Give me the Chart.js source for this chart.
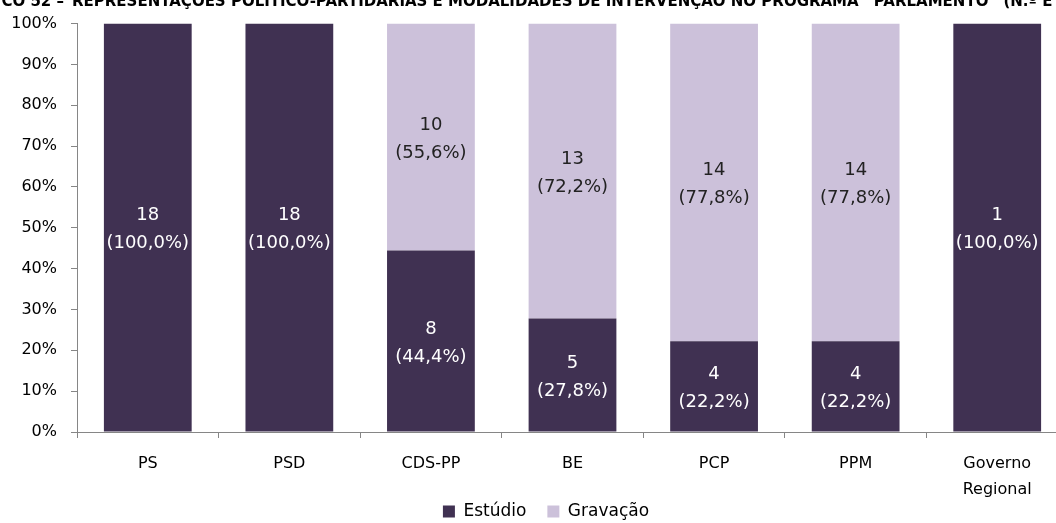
<!DOCTYPE html>
<html>
<head>
<meta charset="utf-8">
<script src="https://cdn.jsdelivr.net/npm/chart.js@4.4.1/dist/chart.umd.min.js"></script>
<style>
html,body{margin:0;padding:0;background:#fff;overflow:hidden;}
#wrap{width:1090px;height:523px;position:relative;}
</style>
</head>
<body>
<div id="wrap"><canvas id="c" width="1090" height="523"></canvas></div>
<script>
const categories = ["PS", "PSD", "CDS-PP", "BE", "PCP", "PPM", ["Governo", "Regional"]];
const estudio = [18, 18, 8, 5, 4, 4, 1];
const gravacao = [0, 0, 10, 13, 14, 14, 0];
const yTicks = [0, 10, 20, 30, 40, 50, 60, 70, 80, 90, 100];
const seriesNames = ["Estúdio", "Gravação"];
const titleLead = "GRÁFICO 52 –";
const titleText = "REPRESENTAÇÕES POLÍTICO-PARTIDÁRIAS E MODALIDADES DE INTERVENÇÃO NO PROGRAMA \u201CPARLAMENTO\u201D (N.º E %)";

const totals = estudio.map((v, i) => v + gravacao[i]);
const pct = arr => arr.map((v, i) => v / totals[i] * 100);
const fmtPct = v => "(" + v.toFixed(1).replace(".", ",") + "%)";

const DARK = "#403152";
const LIGHT = "#CCC1DA";
const AXIS = "#868686";
const FONT = "'DejaVu Sans', sans-serif";

const labelPlugin = {
  id: "segLabels",
  afterLayout(chart) {
    // let the two-line category label extend below the x scale box (no clipping)
    const x = chart.scales.x;
    x.bottom += 30;
    x.height += 30;
    // centre the legend on the full (uncropped) figure width
    const lg = chart.legend;
    lg.right += 24;
    lg.width += 24;
  },
  afterDatasetsDraw(chart) {
    const ctx = chart.ctx;
    ctx.save();
    ctx.font = "18px " + FONT;
    ctx.textAlign = "center";
    ctx.textBaseline = "middle";
    chart.data.datasets.forEach((ds, di) => {
      const meta = chart.getDatasetMeta(di);
      meta.data.forEach((el, i) => {
        const n = ds.counts[i];
        if (!n) return;
        const cy = (el.y + el.base) / 2 + 2;
        ctx.fillStyle = di === 0 ? "#ffffff" : "#222222";
        ctx.fillText(String(n), el.x, cy - 14);
        ctx.fillText(fmtPct(ds.data[i]), el.x, cy + 14);
      });
    });
    ctx.restore();
  }
};

const titlePlugin = {
  id: "clippedTitle",
  afterDraw(chart) {
    const ctx = chart.ctx;
    ctx.save();
    ctx.font = "bold 15px " + FONT;
    ctx.fillStyle = "#000";
    ctx.textBaseline = "alphabetic";
    ctx.textAlign = "right";
    ctx.fillText(titleLead, 64, 6);
    ctx.textAlign = "left";
    ctx.fillText(titleText, 72, 6);
    ctx.restore();
  }
};

new Chart(document.getElementById("c"), {
  type: "bar",
  data: {
    labels: categories,
    datasets: [
      { label: seriesNames[0], data: pct(estudio), counts: estudio, backgroundColor: DARK, borderColor: DARK, borderWidth: 0 },
      { label: seriesNames[1], data: pct(gravacao), counts: gravacao, backgroundColor: LIGHT, borderColor: LIGHT, borderWidth: 0 }
    ]
  },
  options: {
    responsive: false,
    animation: false,
    layout: { padding: { top: 21, left: 0, right: 22, bottom: -7 } },
    datasets: { bar: { categoryPercentage: 1, barPercentage: 0.62 } },
    plugins: {
      tooltip: { enabled: false },
      title: { display: false },
      legend: {
        position: "bottom",
        labels: {
          font: { family: FONT, size: 17 },
          color: "#000",
          boxWidth: 12,
          boxHeight: 12,
          padding: 21,
          useBorderRadius: false
        }
      }
    },
    scales: {
      x: {
        stacked: true,
        offset: true,
        grid: { offset: true, drawOnChartArea: false, drawTicks: true, tickLength: 6, color: AXIS },
        border: { color: AXIS, width: 1 },
        ticks: { font: { family: FONT, size: 16, lineHeight: 1.6 }, color: "#000", padding: 13, maxRotation: 0, autoSkip: false },
        afterFit(s) { s.height = 50; }
      },
      y: {
        stacked: true,
        min: 0,
        max: 100,
        afterBuildTicks(s) { s.ticks = yTicks.map(v => ({ value: v })); },
        grid: { drawOnChartArea: false, drawTicks: true, tickLength: 6, color: AXIS },
        border: { color: AXIS, width: 1 },
        ticks: { font: { family: FONT, size: 16 }, color: "#000", padding: 14, callback: v => v + "%" },
        afterFit(s) { s.width = 77; }
      }
    }
  },
  plugins: [labelPlugin, titlePlugin]
});
</script>
</body>
</html>
